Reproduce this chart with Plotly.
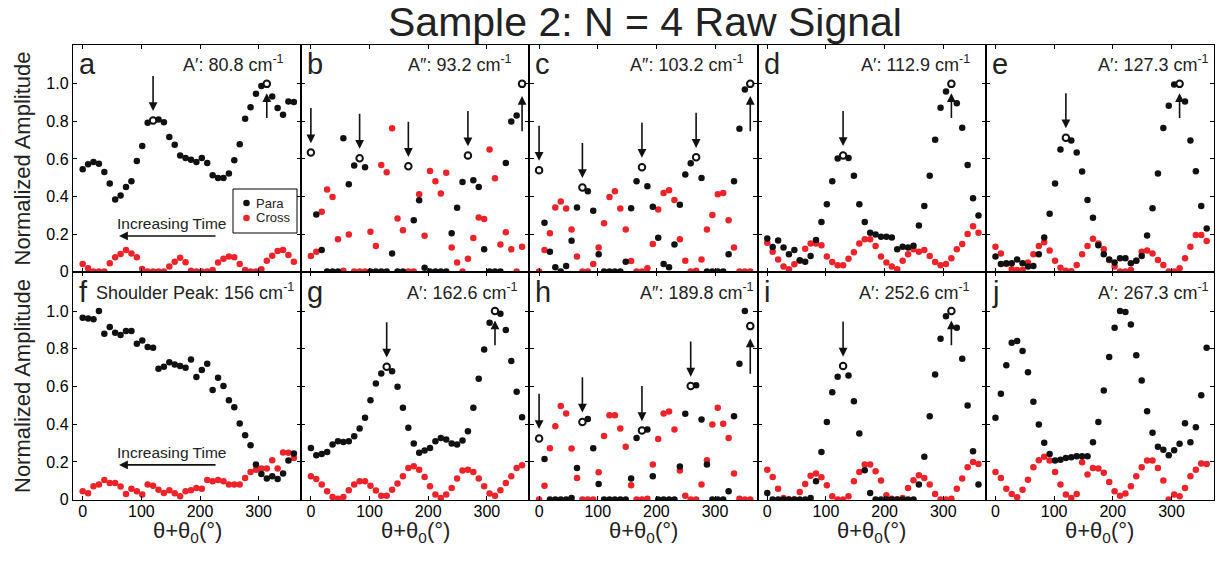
import plotly.graph_objects as go

# ---------------- data ----------------
ANGLES = [0, 9.23, 18.46, 27.69, 36.92, 46.15, 55.38, 64.62, 73.85, 83.08,
          92.31, 101.54, 110.77, 120, 129.23, 138.46, 147.69, 156.92, 166.15, 175.38,
          184.62, 193.85, 203.08, 212.31, 221.54, 230.77, 240, 249.23, 258.46, 267.69,
          276.92, 286.15, 295.38, 304.62, 313.85, 323.08, 332.31, 341.54, 350.77, 360]

PANEL_LETTERS = ["a", "b", "c", "d", "e", "f", "g", "h", "i", "j"]
PANEL_TITLES = ["A′: 80.8 cm<sup>-1</sup>", "A″: 93.2 cm<sup>-1</sup>", "A″: 103.2 cm<sup>-1</sup>",
                "A′: 112.9 cm<sup>-1</sup>", "A′: 127.3 cm<sup>-1</sup>",
                "Shoulder Peak: 156 cm<sup>-1</sup>", "A′: 162.6 cm<sup>-1</sup>", "A″: 189.8 cm<sup>-1</sup>",
                "A′: 252.6 cm<sup>-1</sup>", "A′: 267.3 cm<sup>-1</sup>"]

PARA_A = [0.545, 0.572, 0.584, 0.575, 0.531, 0.469, 0.384, 0.405, 0.451, 0.481, 0.589, 0.669, 0.793, 0.805, 0.81, 0.795, 0.717, 0.676, 0.618, 0.605, 0.596, 0.584, 0.605, 0.579, 0.513, 0.499, 0.499, 0.522, 0.593, 0.678, 0.814, 0.876, 0.947, 0.988, 1.0, 0.933, 0.871, 0.835, 0.906, 0.903]
CROSS_A = [0.04, 0.018, 0, 0, 0, 0.044, 0.076, 0.094, 0.115, 0.097, 0.076, 0.014, 0, 0, 0, 0, 0.027, 0.053, 0.074, 0.05, 0.005, 0, 0, 0, 0.009, 0.048, 0.069, 0.08, 0.076, 0.04, 0.009, 0, 0, 0.012, 0.058, 0.085, 0.11, 0.115, 0.088, 0.053]
PARA_B = [0.634, 0.304, 0.115, 0, 0, 0, 0.71, 0.465, 0.565, 0.604, 0.556, 0, 0, 0, 0, 0.097, 0, 0, 0.561, 0.274, 0.38, 0.021, 0, 0, 0, 0, 0.204, 0.34, 0.478, 0.618, 0.487, 0.451, 0.119, 0, 0, 0, 0.579, 0.8, 0.832, 1.0]
CROSS_B = [0.083, 0.106, 0.319, 0.437, 0.398, 0.173, 0.005, 0.198, 0, 0, 0, 0.212, 0.136, 0.568, 0.529, 0.763, 0.283, 0.221, 0, 0, 0.412, 0.191, 0.536, 0.481, 0.416, 0.526, 0.129, 0.048, 0, 0.069, 0.179, 0.288, 0.28, 0.651, 0.497, 0.145, 0.21, 0.119, 0, 0.133]
PARA_C = [0.54, 0.26, 0.106, 0.023, 0, 0.03, 0.165, 0.342, 0.448, 0.428, 0.324, 0.092, 0, 0, 0, 0, 0.053, 0.338, 0.481, 0.556, 0.455, 0.345, 0.18, 0.04, 0.023, 0.145, 0.356, 0.517, 0.577, 0.609, 0.499, 0, 0, 0, 0, 0.092, 0.481, 0.761, 0.97, 1.0]
CROSS_C = [0, 0.115, 0.204, 0.342, 0.373, 0.336, 0.225, 0.08, 0, 0, 0.04, 0.129, 0.257, 0.398, 0.428, 0.336, 0.225, 0.057, 0, 0, 0.018, 0.147, 0.331, 0.419, 0.434, 0.381, 0.172, 0.058, 0, 0.005, 0.065, 0.225, 0.301, 0.412, 0.419, 0.273, 0.129, 0, 0, 0]
PARA_D = [0.177, 0.131, 0.166, 0.129, 0.092, 0.115, 0.06, 0.053, 0.083, 0.168, 0.264, 0.359, 0.481, 0.602, 0.619, 0.605, 0.51, 0.359, 0.264, 0.207, 0.198, 0.186, 0.186, 0.182, 0.119, 0.133, 0.129, 0.138, 0.246, 0.349, 0.51, 0.703, 0.873, 0.959, 1.0, 0.897, 0.766, 0.568, 0.391, 0.299]
CROSS_D = [0.154, 0.106, 0.065, 0.027, 0.012, 0.039, 0.058, 0.122, 0.15, 0.15, 0.14, 0.08, 0.051, 0.034, 0.034, 0.069, 0.103, 0.15, 0.172, 0.172, 0.136, 0.08, 0.048, 0.027, 0.012, 0.058, 0.092, 0.119, 0.106, 0.115, 0.083, 0.051, 0.034, 0.041, 0.071, 0.119, 0.147, 0.2, 0.242, 0.207]
PARA_E = [0.08, 0.041, 0.044, 0.044, 0.065, 0.044, 0.027, 0.03, 0.092, 0.182, 0.308, 0.469, 0.651, 0.713, 0.699, 0.634, 0.533, 0.381, 0.287, 0.14, 0.092, 0.065, 0.048, 0.071, 0.071, 0.044, 0.058, 0.083, 0.193, 0.338, 0.522, 0.765, 0.883, 0.996, 1.0, 0.906, 0.699, 0.535, 0.35, 0.23]
CROSS_E = [0.133, 0.097, 0.041, 0.012, 0.009, 0.009, 0.048, 0.092, 0.136, 0.156, 0.112, 0.058, 0.021, 0.005, 0.002, 0.035, 0.092, 0.136, 0.175, 0.15, 0.119, 0.062, 0.027, 0, 0, 0.009, 0.058, 0.106, 0.112, 0.097, 0.062, 0.035, 0, 0, 0.018, 0.071, 0.133, 0.195, 0.195, 0.163]
PARA_F = [0.965, 0.961, 0.956, 1.0, 0.88, 0.915, 0.885, 0.873, 0.894, 0.894, 0.827, 0.844, 0.809, 0.805, 0.694, 0.704, 0.729, 0.717, 0.708, 0.699, 0.743, 0.65, 0.687, 0.72, 0.581, 0.646, 0.602, 0.527, 0.49, 0.404, 0.342, 0.288, 0.186, 0.136, 0.112, 0.124, 0.11, 0.138, 0.207, 0.244]
CROSS_F = [0.044, 0.034, 0.071, 0.08, 0.104, 0.088, 0.088, 0.069, 0.03, 0.057, 0.044, 0.027, 0.08, 0.074, 0.053, 0.035, 0.05, 0.034, 0.018, 0.044, 0.05, 0.062, 0.058, 0.104, 0.097, 0.104, 0.097, 0.08, 0.08, 0.08, 0.115, 0.147, 0.159, 0.165, 0.165, 0.209, 0.165, 0.25, 0.248, 0.221]
PARA_G = [0.274, 0.235, 0.242, 0.253, 0.292, 0.31, 0.306, 0.31, 0.336, 0.377, 0.434, 0.527, 0.616, 0.669, 0.704, 0.681, 0.598, 0.487, 0.381, 0.297, 0.248, 0.26, 0.274, 0.31, 0.327, 0.319, 0.297, 0.292, 0.313, 0.363, 0.487, 0.641, 0.796, 0.938, 1.0, 0.986, 0.899, 0.735, 0.572, 0.437]
CROSS_G = [0.124, 0.11, 0.08, 0.044, 0.014, 0.004, 0.014, 0.05, 0.08, 0.097, 0.097, 0.074, 0.048, 0.021, 0.021, 0.053, 0.085, 0.124, 0.168, 0.177, 0.159, 0.12, 0.071, 0.027, 0.009, 0.027, 0.062, 0.112, 0.154, 0.159, 0.147, 0.112, 0.071, 0.032, 0.021, 0.05, 0.088, 0.124, 0.168, 0.182]
PARA_H = [0.324, 0.216, 0, 0, 0, 0, 0.009, 0.168, 0.412, 0.428, 0.273, 0.083, 0, 0, 0, 0, 0, 0.112, 0.327, 0.366, 0.372, 0.124, 0, 0, 0, 0, 0.175, 0.455, 0.602, 0.607, 0.425, 0.186, 0, 0, 0, 0.044, 0.442, 0.72, 1.0, 0.92]
CROSS_H = [0, 0.073, 0.273, 0.389, 0.496, 0.457, 0.271, 0.115, 0, 0, 0, 0.145, 0.338, 0.448, 0.448, 0.377, 0.281, 0.076, 0, 0, 0.005, 0.186, 0.322, 0.457, 0.467, 0.372, 0.154, 0.021, 0, 0, 0.08, 0.209, 0.398, 0.487, 0.402, 0.327, 0.138, 0.005, 0, 0]
PARA_I = [0.035, 0, 0, 0, 0, 0, 0, 0, 0.009, 0.097, 0.253, 0.412, 0.57, 0.651, 0.708, 0.658, 0.522, 0.35, 0.156, 0.035, 0, 0, 0, 0, 0, 0, 0, 0, 0.08, 0.227, 0.442, 0.664, 0.853, 0.973, 1.0, 0.912, 0.747, 0.499, 0.257, 0.08]
CROSS_I = [0.159, 0.12, 0.057, 0.009, 0, 0, 0.041, 0.083, 0.127, 0.138, 0.119, 0.076, 0.018, 0, 0, 0.018, 0.097, 0.147, 0.186, 0.186, 0.15, 0.101, 0.023, 0.005, 0, 0.009, 0.062, 0.103, 0.129, 0.115, 0.08, 0.03, 0, 0, 0.004, 0.057, 0.112, 0.172, 0.2, 0.189]
PARA_J = [0.434, 0.561, 0.713, 0.832, 0.841, 0.788, 0.676, 0.519, 0.398, 0.301, 0.242, 0.207, 0.212, 0.221, 0.225, 0.23, 0.23, 0.23, 0.304, 0.411, 0.579, 0.756, 0.912, 1.0, 0.995, 0.929, 0.765, 0.632, 0.469, 0.354, 0.28, 0.265, 0.235, 0.262, 0.296, 0.405, 0.304, 0.384, 0.554, 0.805]
CROSS_J = [0.147, 0.115, 0.058, 0.03, 0.012, 0.053, 0.106, 0.172, 0.209, 0.227, 0.207, 0.147, 0.08, 0.027, 0.009, 0.03, 0.198, 0.133, 0.168, 0.165, 0.142, 0.094, 0.044, 0.021, 0.032, 0.071, 0.124, 0.172, 0.207, 0.207, 0.168, 0.101, 0, 0.027, 0.018, 0.062, 0.124, 0.159, 0.191, 0.189]

PARA = [PARA_A, PARA_B, PARA_C, PARA_D, PARA_E, PARA_F, PARA_G, PARA_H, PARA_I, PARA_J]
CROSS = [CROSS_A, CROSS_B, CROSS_C, CROSS_D, CROSS_E, CROSS_F, CROSS_G, CROSS_H, CROSS_I, CROSS_J]

# marked maxima (hollow circles): index of angle, arrow direction
MARKS = [
    [(13, "down"), (34, "up")],
    [(0, "down"), (9, "down"), (18, "down"), (29, "down"), (39, "upl")],
    [(0, "down"), (8, "down"), (19, "down"), (29, "down"), (39, "upl")],
    [(14, "down"), (34, "up")],
    [(13, "down"), (34, "up")],
    [],
    [(14, "down"), (34, "up")],
    [(0, "down"), (8, "down"), (19, "down"), (28, "down"), (39, "upl")],
    [(14, "down"), (34, "up")],
    [],
]

X_TICKS = [0, 100, 200, 300]
Y_TICKS = [0, 0.2, 0.4, 0.6, 0.8, 1.0]
Y_TICK_TEXT = ["0", "0.2", "0.4", "0.6", "0.8", "1.0"]

# ---------------- layout helpers ----------------
# the page body has an 8 px margin, so figure pixel = screen pixel - OFF
OFF = 8
W, H = 1225 - 2 * OFF, 562 - 2 * OFF
COL_LEFT = [73, 301.2, 529.4, 757.6, 985.8]
COL_W = 228.2
ROW_TOP = [45, 272]
ROW_H = [227, 228]
TITLE_INSET = [18, 18, 14.6, 17, 6, 8, 12, 4.3, 17, 6]


def px(v):
    return (v - OFF) / W


def py(v):
    return 1 - (v - OFF) / H


BLACK = "#111111"
RED = "#ee2229"
FONT = "Liberation Sans, Arial, sans-serif"
TICKFONT = "Liberation Sans Narrow, Liberation Sans, Arial, sans-serif"

fig = go.Figure()
annotations = []
shapes = []

for k in range(10):
    row, col = divmod(k, 5)
    xn = "x" if k == 0 else f"x{k+1}"
    yn = "y" if k == 0 else f"y{k+1}"
    xa = "xaxis" if k == 0 else f"xaxis{k+1}"
    ya = "yaxis" if k == 0 else f"yaxis{k+1}"

    common = dict(showline=True, linecolor="black", linewidth=1.4, mirror="ticks",
                  ticks="inside", ticklen=4, tickwidth=1, tickcolor="black",
                  showgrid=False, zeroline=False, automargin=False,
                  tickfont=dict(family=TICKFONT, size=16, color="black"))
    fig.update_layout({
        xa: dict(domain=[px(COL_LEFT[col]), px(COL_LEFT[col] + COL_W)], anchor=yn,
                 range=[-16.5, 372.5], tickvals=X_TICKS,
                 showticklabels=(row == 1), ticklabelstandoff=-3, **common),
        ya: dict(domain=[py(ROW_TOP[row] + ROW_H[row]), py(ROW_TOP[row])], anchor=xn,
                 range=[-0.002, 1.207], tickvals=Y_TICKS,
                 ticktext=Y_TICK_TEXT, showticklabels=(col == 0), **common),
    })

    para = PARA[k]
    cross = CROSS[k]
    open_idx = [m[0] for m in MARKS[k]]

    if k == 0:
        fig.add_trace(go.Scatter(x=ANGLES, y=[0] * len(ANGLES), mode="lines",
                                 line=dict(color="#b01818", width=1.2),
                                 xaxis=xn, yaxis=yn, showlegend=False, hoverinfo="skip"))

    fig.add_trace(go.Scatter(x=ANGLES, y=cross, mode="markers",
                             marker=dict(color=RED, size=6.5, line=dict(width=0)),
                             xaxis=xn, yaxis=yn, showlegend=False, name="Cross"))
    fx = [a for i, a in enumerate(ANGLES) if i not in open_idx]
    fy = [v for i, v in enumerate(para) if i not in open_idx]
    fig.add_trace(go.Scatter(x=fx, y=fy, mode="markers",
                             marker=dict(color=BLACK, size=6.5, line=dict(width=0)),
                             xaxis=xn, yaxis=yn, showlegend=False, name="Para"))
    if open_idx:
        fig.add_trace(go.Scatter(x=[ANGLES[i] for i in open_idx], y=[para[i] for i in open_idx],
                                 mode="markers",
                                 marker=dict(color="white", size=6.5, line=dict(color=BLACK, width=2)),
                                 xaxis=xn, yaxis=yn, showlegend=False, name="Max"))
        for idx, d in MARKS[k]:
            xv, yv = ANGLES[idx], para[idx]
            if d == "down":
                tip, tail = yv + 0.05, yv + 0.245
            elif d == "up":
                tip, tail = yv - 0.05, yv - 0.19
            else:
                tip, tail = yv - 0.065, yv - 0.26
            annotations.append(dict(x=xv, y=tip, ax=xv, ay=tail, xref=xn, yref=yn,
                                    axref=xn, ayref=yn, text="", showarrow=True,
                                    arrowhead=2, arrowsize=1.1, arrowwidth=1.6, arrowcolor=BLACK))

    # panel letter
    annotations.append(dict(text=PANEL_LETTERS[k], xref=f"{xn} domain", yref="paper",
                            x=4 / COL_W, y=py(ROW_TOP[row] + 19.5),
                            xanchor="left", yanchor="middle", showarrow=False,
                            font=dict(family=FONT, size=29, color="#222")))
    # panel title
    annotations.append(dict(text=PANEL_TITLES[k], xref=f"{xn} domain", yref="paper",
                            x=1 - (TITLE_INSET[k] - 3) / COL_W, y=py(ROW_TOP[row] + 19),
                            xanchor="right", yanchor="middle", showarrow=False,
                            font=dict(family=FONT, size=18, color="#222")))

# Increasing time arrows (panels a and f)
for xn, yn, ty, ay in [("x", "y", 0.257, 0.19), ("x6", "y6", 0.252, 0.184)]:
    annotations.append(dict(text="Increasing Time", x=151, y=ty, xref=xn, yref=yn,
                            showarrow=False, font=dict(family=FONT, size=15.5, color="#222")))
    annotations.append(dict(x=62, y=ay, ax=229, ay=ay, xref=xn, yref=yn, axref=xn, ayref=yn,
                            text="", showarrow=True, arrowhead=2, arrowsize=1.1,
                            arrowwidth=1.6, arrowcolor=BLACK))

# legend box (panel a)
shapes.append(dict(type="rect", xref="paper", yref="paper",
                   x0=px(233), x1=px(297), y0=py(233), y1=py(189),
                   line=dict(color="black", width=1), fillcolor="white", layer="above"))
for ly, col_, lab in [(203, BLACK, "Para"), (218, RED, "Cross")]:
    shapes.append(dict(type="circle", xref="paper", yref="paper",
                       xsizemode="pixel", ysizemode="pixel",
                       xanchor=px(246.5), yanchor=py(ly),
                       x0=-3.3, x1=3.3, y0=-3.3, y1=3.3,
                       fillcolor=col_, line=dict(width=0), layer="above"))
    annotations.append(dict(text=lab, xref="paper", yref="paper", x=px(254), y=py(ly),
                            xanchor="left", yanchor="middle", showarrow=False,
                            font=dict(family=FONT, size=13, color="#222")))

# axis titles
for row in range(2):
    annotations.append(dict(text="Normalized Amplitude", xref="paper", yref="paper",
                            x=px(22), y=py(ROW_TOP[row] + ROW_H[row] / 2),
                            textangle=-90, showarrow=False, xanchor="center", yanchor="middle",
                            font=dict(family=FONT, size=22, color="#222")))
for col in range(5):
    annotations.append(dict(text="θ+θ<sub>0</sub>(°)", xref="paper", yref="paper",
                            x=px(COL_LEFT[col] + COL_W / 2), y=py(532),
                            showarrow=False, xanchor="center", yanchor="middle",
                            font=dict(family=FONT, size=22, color="#222")))

# main title
annotations.append(dict(text="Sample 2: N = 4 Raw Signal", xref="paper", yref="paper",
                        x=px(645), y=py(22), showarrow=False,
                        xanchor="center", yanchor="middle",
                        font=dict(family=FONT, size=41, color="#222")))

fig.update_layout(width=W, height=H, margin=dict(l=0, r=0, t=0, b=0, autoexpand=False),
                  template="none",
                  paper_bgcolor="white", plot_bgcolor="white",
                  annotations=annotations, shapes=shapes, showlegend=False)

fig.write_html("out.html")
